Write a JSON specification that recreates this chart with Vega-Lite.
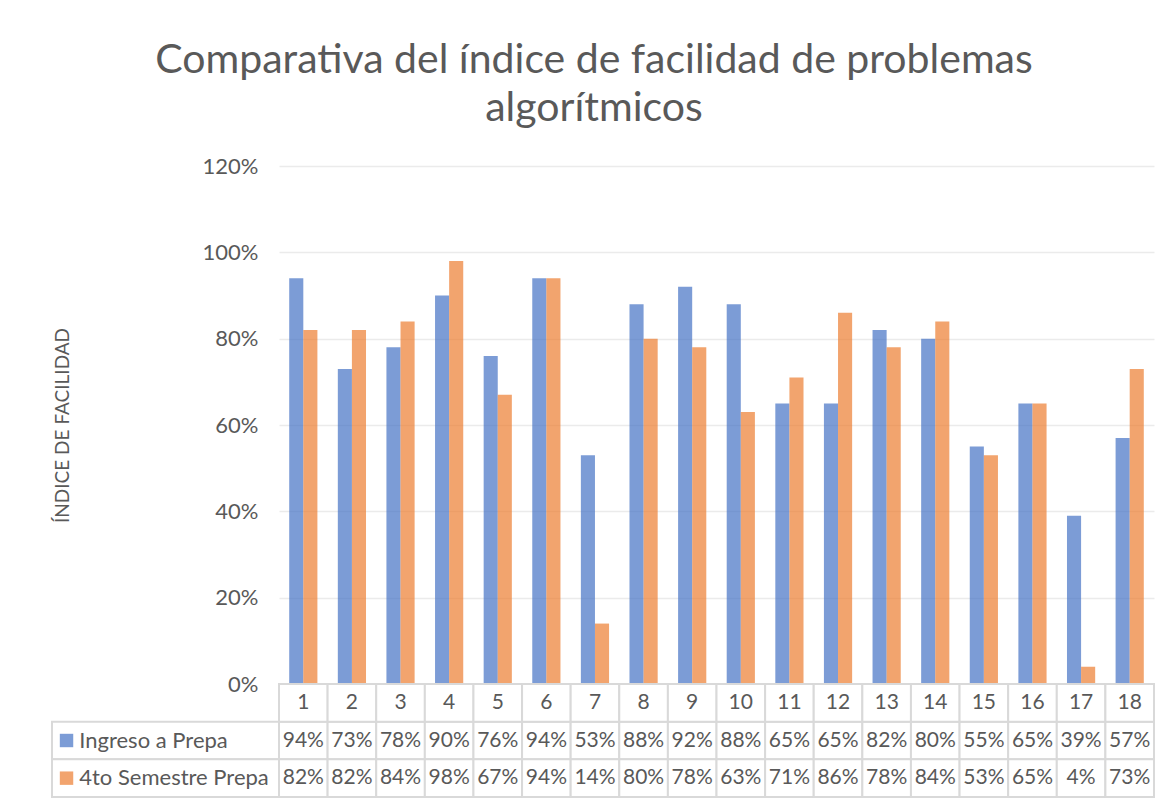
{
  "$schema": "https://vega.github.io/schema/vega-lite/v6.json",
  "background": "white",
  "padding": {"left": 51, "top": 40, "right": 10, "bottom": 4},
  "autosize": {"type": "pad"},
  "config": {"font": "Lato", "view": {"stroke": null}},
  "title": {
    "text": ["Comparativa del índice de facilidad de problemas", "algorítmicos"],
    "fontSize": 41, "fontWeight": "normal", "color": "#595959",
    "lineHeight": 48, "anchor": "middle", "offset": 25, "dx": -9
  },
  "datasets": {
    "d": [
      {"problem": 1, "series": "Ingreso a Prepa", "value": 0.94},
      {"problem": 2, "series": "Ingreso a Prepa", "value": 0.73},
      {"problem": 3, "series": "Ingreso a Prepa", "value": 0.78},
      {"problem": 4, "series": "Ingreso a Prepa", "value": 0.90},
      {"problem": 5, "series": "Ingreso a Prepa", "value": 0.76},
      {"problem": 6, "series": "Ingreso a Prepa", "value": 0.94},
      {"problem": 7, "series": "Ingreso a Prepa", "value": 0.53},
      {"problem": 8, "series": "Ingreso a Prepa", "value": 0.88},
      {"problem": 9, "series": "Ingreso a Prepa", "value": 0.92},
      {"problem": 10, "series": "Ingreso a Prepa", "value": 0.88},
      {"problem": 11, "series": "Ingreso a Prepa", "value": 0.65},
      {"problem": 12, "series": "Ingreso a Prepa", "value": 0.65},
      {"problem": 13, "series": "Ingreso a Prepa", "value": 0.82},
      {"problem": 14, "series": "Ingreso a Prepa", "value": 0.80},
      {"problem": 15, "series": "Ingreso a Prepa", "value": 0.55},
      {"problem": 16, "series": "Ingreso a Prepa", "value": 0.65},
      {"problem": 17, "series": "Ingreso a Prepa", "value": 0.39},
      {"problem": 18, "series": "Ingreso a Prepa", "value": 0.57},
      {"problem": 1, "series": "4to Semestre Prepa", "value": 0.82},
      {"problem": 2, "series": "4to Semestre Prepa", "value": 0.82},
      {"problem": 3, "series": "4to Semestre Prepa", "value": 0.84},
      {"problem": 4, "series": "4to Semestre Prepa", "value": 0.98},
      {"problem": 5, "series": "4to Semestre Prepa", "value": 0.67},
      {"problem": 6, "series": "4to Semestre Prepa", "value": 0.94},
      {"problem": 7, "series": "4to Semestre Prepa", "value": 0.14},
      {"problem": 8, "series": "4to Semestre Prepa", "value": 0.80},
      {"problem": 9, "series": "4to Semestre Prepa", "value": 0.78},
      {"problem": 10, "series": "4to Semestre Prepa", "value": 0.63},
      {"problem": 11, "series": "4to Semestre Prepa", "value": 0.71},
      {"problem": 12, "series": "4to Semestre Prepa", "value": 0.86},
      {"problem": 13, "series": "4to Semestre Prepa", "value": 0.78},
      {"problem": 14, "series": "4to Semestre Prepa", "value": 0.84},
      {"problem": 15, "series": "4to Semestre Prepa", "value": 0.53},
      {"problem": 16, "series": "4to Semestre Prepa", "value": 0.65},
      {"problem": 17, "series": "4to Semestre Prepa", "value": 0.04},
      {"problem": 18, "series": "4to Semestre Prepa", "value": 0.73}
    ]
  },
  "data": {"name": "d"},
  "columns": 2,
  "spacing": 0,
  "bounds": "flush",
  "concat": [
    {
      "width": 227, "height": 518,
      "data": {"values": []},
      "mark": "rect"
    },
    {
      "width": 875, "height": 518,
      "mark": {"type": "bar", "fillOpacity": 0.7},
      "encoding": {
        "x": {"field": "problem", "type": "ordinal", "scale": {"paddingInner": 0.42, "paddingOuter": 0.21}, "axis": null},
        "xOffset": {"field": "series", "type": "nominal", "scale": {"domain": ["Ingreso a Prepa", "4to Semestre Prepa"], "paddingInner": 0, "paddingOuter": 0}},
        "y": {
          "field": "value", "type": "quantitative",
          "scale": {"domain": [0, 1.2], "nice": false},
          "axis": {
            "values": [0, 0.2, 0.4, 0.6, 0.8, 1.0, 1.2], "format": ".0%",
            "labelFontSize": 22, "labelColor": "#595959", "labelPadding": 21,
            "ticks": false, "domain": false,
            "gridColor": "#EBEBEB", "gridWidth": 1.5,
            "title": "ÍNDICE DE FACILIDAD", "titleFontSize": 19, "titleFontWeight": "normal",
            "titleColor": "#595959", "titlePadding": 130
          }
        },
        "color": {"field": "series", "type": "nominal", "scale": {"domain": ["Ingreso a Prepa", "4to Semestre Prepa"], "range": ["#4472C4", "#ED7D31"]}, "legend": null}
      }
    },
    {
      "width": 227, "height": 113,
      "transform": [{"filter": "datum.problem == 1"}],
      "layer": [
        {
          "mark": {"type": "rect", "fill": "white", "stroke": "#D9D9D9", "strokeWidth": 2},
          "encoding": {
            "x": {"datum": 0, "type": "quantitative", "scale": {"domain": [0, 1], "nice": false, "zero": false}, "axis": null},
            "x2": {"datum": 1},
            "y": {"field": "series", "type": "nominal", "scale": {"domain": ["hdr", "Ingreso a Prepa", "4to Semestre Prepa"], "paddingInner": 0, "paddingOuter": 0}, "axis": null}
          }
        },
        {
          "mark": {"type": "point", "shape": "square", "filled": true, "size": 180, "opacity": 0.7},
          "encoding": {
            "x": {"datum": 0.064, "type": "quantitative"},
            "y": {"field": "series", "type": "nominal"},
            "color": {"field": "series", "type": "nominal", "scale": {"domain": ["Ingreso a Prepa", "4to Semestre Prepa"], "range": ["#4472C4", "#ED7D31"]}, "legend": null}
          }
        },
        {
          "mark": {"type": "text", "align": "left", "fontSize": 22, "color": "#595959"},
          "encoding": {
            "x": {"datum": 0.12, "type": "quantitative"},
            "y": {"field": "series", "type": "nominal"},
            "text": {"field": "series"}
          }
        }
      ]
    },
    {
      "width": 875, "height": 113,
      "layer": [
        {
          "mark": {"type": "rect", "fill": "white", "stroke": "#D9D9D9", "strokeWidth": 2},
          "encoding": {
            "x": {"field": "problem", "type": "ordinal", "scale": {"paddingInner": 0, "paddingOuter": 0}, "axis": null},
            "y": {"field": "series", "type": "nominal", "scale": {"domain": ["hdr", "Ingreso a Prepa", "4to Semestre Prepa"], "paddingInner": 0, "paddingOuter": 0}, "axis": null}
          }
        },
        {
          "transform": [{"filter": "datum.series == 'Ingreso a Prepa'"}],
          "mark": {"type": "rect", "fill": "white", "stroke": "#D9D9D9", "strokeWidth": 2},
          "encoding": {
            "x": {"field": "problem", "type": "ordinal"},
            "y": {"datum": "hdr", "type": "nominal"}
          }
        },
        {
          "mark": {"type": "text", "fontSize": 21, "color": "#595959"},
          "encoding": {
            "x": {"field": "problem", "type": "ordinal"},
            "y": {"field": "series", "type": "nominal"},
            "text": {"field": "value", "format": ".0%"}
          }
        },
        {
          "transform": [{"filter": "datum.series == 'Ingreso a Prepa'"}],
          "mark": {"type": "text", "fontSize": 21, "color": "#595959"},
          "encoding": {
            "x": {"field": "problem", "type": "ordinal"},
            "y": {"datum": "hdr", "type": "nominal"},
            "text": {"field": "problem"}
          }
        }
      ]
    }
  ]
}
